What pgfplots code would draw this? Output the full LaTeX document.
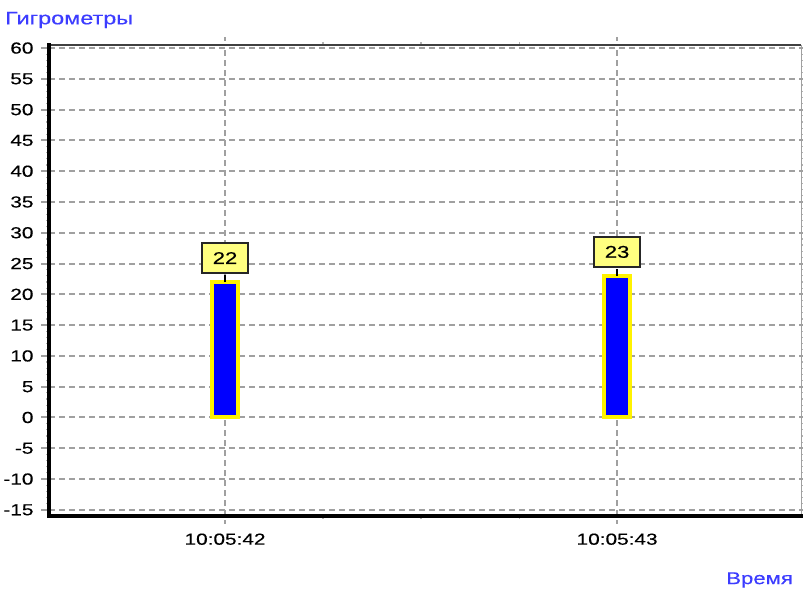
\documentclass[border=0pt]{standalone}
\usepackage{pgfplots}
\pgfplotsset{compat=1.18}
\usepackage{fontspec}
\setmainfont{Liberation Sans}[FakeStretch=1.3, FakeBold=0.4]
\definecolor{lblblue}{RGB}{60,60,255}
\definecolor{gridgray}{RGB}{160,160,160}
\definecolor{boxyellow}{RGB}{255,255,128}
\begin{document}
\fontsize{16}{19}\selectfont
\begin{tikzpicture}
\useasboundingbox (-49pt,-75pt) rectangle (754pt,516pt);
\begin{axis}[
  at={(0pt,0pt)}, anchor=south west,
  scale only axis, width=752pt, height=471pt,
  xmin=41.551, xmax=43.469,
  ymin=-16, ymax=60.5,
  xtick={42,43}, xticklabels={10:05:42,10:05:43},
  ytick={-15,-10,...,60},
  yticklabels={-15,-10,-5,0,5,10,15,20,25,30,35,40,45,50,55,60},
  minor x tick num=3, minor y tick num=4,
  tick align=outside,
  major tick length=8pt, minor tick length=3pt,
  tick style={gridgray, line width=2pt},
  minor tick style={gridgray!80, line width=1.2pt},
  major x tick style={dash pattern=on 4pt off 3pt},
  grid=major,
  major grid style={dash pattern=on 6pt off 4pt, line width=2pt, gridgray},
  axis line style={draw=none},
  xticklabel style={yshift=-4pt},
  yticklabel style={xshift=-2pt},
  /pgf/number format/assume math mode=true,
  clip=false,
]
\addplot[ybar, bar width=26pt, fill=blue, draw=yellow, line width=4pt,
  nodes near coords,
  every node near coord/.style={anchor=south, yshift=8pt, fill=boxyellow, draw=black!85,
    line width=2pt, minimum width=46pt, minimum height=30pt, inner sep=0pt,
    font=\fontsize{17}{19}\selectfont,
    label={[anchor=north, inner sep=0pt, outer sep=0pt, fill=none, draw=none, yshift=-1pt]below:{\color{black}\rule{2pt}{7pt}}}},
  ] coordinates {(42,22) (43,23)};
\draw[line width=2.5pt, black!75] (rel axis cs:0,1) -- (rel axis cs:1,1);
\draw[line width=1pt, gridgray] (rel axis cs:1,0) -- (rel axis cs:1,1);
\draw[line width=3.5pt, line cap=rect] (rel axis cs:0,1) -- (rel axis cs:0,0) -- (rel axis cs:1,0);
\end{axis}
\node[anchor=west, text=lblblue, inner sep=0pt, font=\fontsize{18}{20}\selectfont] at (-44pt,496pt) {Гигрометры};
\node[anchor=east, text=lblblue, inner sep=0pt, font=\fontsize{17}{19}\selectfont] at (744pt,-64pt) {Время};
\end{tikzpicture}
\end{document}
